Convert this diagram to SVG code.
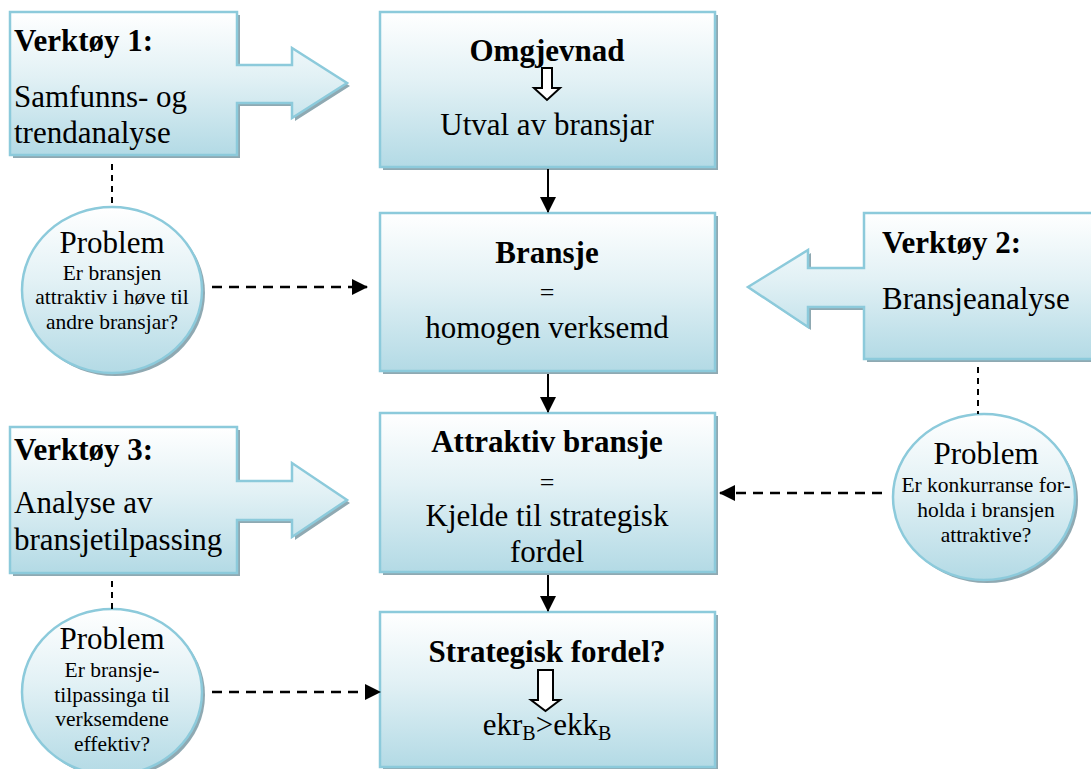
<svg xmlns="http://www.w3.org/2000/svg" width="1091" height="769" viewBox="0 0 1091 769">
  <defs>
    <linearGradient id="fillGrad" x1="0" y1="0" x2="0" y2="1">
      <stop offset="0" stop-color="#ffffff"/>
      <stop offset="0.45" stop-color="#e2f1f5"/>
      <stop offset="1" stop-color="#b3dae5"/>
    </linearGradient>
    <marker id="arrowSolid" markerUnits="userSpaceOnUse" markerWidth="16" markerHeight="16" viewBox="0 0 16 16" refX="15" refY="8" orient="auto">
      <path d="M0,0 L16,8 L0,16 Z" fill="#000"/>
    </marker>
  </defs>
  <style>
    .shape { fill: url(#fillGrad); stroke: #8ccadb; stroke-width: 2.5; }
    .shadow { fill: #8fa9b2; }
    .t { font-family: "Liberation Serif", "Times New Roman", serif; fill: #000; }
    .big { font-size: 31px; }
    .bold { font-weight: bold; }
    .small { font-size: 21.5px; }
    .eq { font-size: 26px; }
    .mid { text-anchor: middle; }
    .solid { stroke: #000; stroke-width: 2; fill: none; marker-end: url(#arrowSolid); }
    .dashed { stroke: #000; stroke-width: 2.5; fill: none; stroke-dasharray: 10 7; marker-end: url(#arrowSolid); }
    .dashv { stroke: #000; stroke-width: 2; fill: none; stroke-dasharray: 6 5; }
    .hollow { fill: #fff; stroke: #000; stroke-width: 2; }
  </style>

  <!-- Tool 1: arrow-shaped callout pointing right -->
  <g id="verktoy1">
    <path class="shadow" transform="translate(3,3)" d="M10,12 H237 V65 H292 V48 L347,83 L292,118 V103 H237 V155 H10 Z"/>
    <path class="shape" d="M10,12 H237 V65 H292 V48 L347,83 L292,118 V103 H237 V155 H10 Z"/>
    <text class="t big bold" x="14" y="51">Verktøy 1:</text>
    <text class="t big" x="14" y="107">Samfunns- og</text>
    <text class="t big" x="14" y="143">trendanalyse</text>
  </g>

  <!-- Main column -->
  <g id="omgjevnad">
    <rect class="shadow" x="383" y="15" width="335" height="155"/>
    <rect class="shape" x="380" y="12" width="335" height="155"/>
    <text class="t big bold mid" x="547" y="61">Omgjevnad</text>
    <path class="hollow" d="M542,68 H552 V88 H560 L547,100 L534,88 H542 Z"/>
    <text class="t big mid" x="547" y="135">Utval av bransjar</text>
  </g>

  <g id="bransje">
    <rect class="shadow" x="383" y="216" width="335" height="158"/>
    <rect class="shape" x="380" y="213" width="335" height="158"/>
    <text class="t big bold mid" x="547" y="263">Bransje</text>
    <text class="t eq mid" x="547" y="301">=</text>
    <text class="t big mid" x="547" y="338">homogen verksemd</text>
  </g>

  <g id="attraktiv">
    <rect class="shadow" x="383" y="416" width="335" height="159"/>
    <rect class="shape" x="380" y="413" width="335" height="159"/>
    <text class="t big bold mid" x="547" y="452">Attraktiv bransje</text>
    <text class="t eq mid" x="547" y="491">=</text>
    <text class="t big mid" x="547" y="526">Kjelde til strategisk</text>
    <text class="t big mid" x="547" y="562">fordel</text>
  </g>

  <g id="strategisk">
    <rect class="shadow" x="383" y="615" width="335" height="155"/>
    <rect class="shape" x="380" y="612" width="335" height="155"/>
    <text class="t big bold mid" x="547" y="662">Strategisk fordel?</text>
    <path class="hollow" d="M538,670 H553 V700 H560 L545.5,711 L531,700 H538 Z"/>
    <text class="t big mid" x="547" y="735">ekr<tspan font-size="20" dy="5">B</tspan><tspan dy="-5">&gt;ekk</tspan><tspan font-size="20" dy="5">B</tspan></text>
  </g>

  <!-- Tool 2: arrow-shaped callout pointing left -->
  <g id="verktoy2">
    <path class="shadow" transform="translate(3,3)" d="M1096,213 H864 V268 H808 V250 L748,287 L808,327 V307 H864 V359 H1096 Z"/>
    <path class="shape" d="M1096,213 H864 V268 H808 V250 L748,287 L808,327 V307 H864 V359 H1096 Z"/>
    <text class="t big bold" x="882" y="253">Verktøy 2:</text>
    <text class="t big" x="882" y="309">Bransjeanalyse</text>
  </g>

  <!-- Tool 3: arrow-shaped callout pointing right -->
  <g id="verktoy3">
    <path class="shadow" transform="translate(3,3)" d="M10,427 H237 V481 H292 V463 L347,500 L292,537 V520 H237 V573 H10 Z"/>
    <path class="shape" d="M10,427 H237 V481 H292 V463 L347,500 L292,537 V520 H237 V573 H10 Z"/>
    <text class="t big bold" x="14" y="460">Verktøy 3:</text>
    <text class="t big" x="14" y="513">Analyse av</text>
    <text class="t big" x="14" y="550">bransjetilpassing</text>
  </g>

  <!-- Problem bubbles -->
  <g id="problem1">
    <ellipse class="shadow" cx="115" cy="293" rx="90" ry="83"/>
    <ellipse class="shape" cx="112" cy="290" rx="90" ry="83"/>
    <text class="t big mid" x="112" y="253">Problem</text>
    <text class="t small mid" x="112" y="280">Er bransjen</text>
    <text class="t small mid" x="112" y="304">attraktiv i høve til</text>
    <text class="t small mid" x="112" y="329">andre bransjar?</text>
  </g>

  <g id="problem2">
    <ellipse class="shadow" cx="987" cy="500" rx="91" ry="83"/>
    <ellipse class="shape" cx="984" cy="497" rx="91" ry="83"/>
    <text class="t big mid" x="986" y="464">Problem</text>
    <text class="t small mid" x="986" y="492">Er konkurranse for-</text>
    <text class="t small mid" x="986" y="517">holda i bransjen</text>
    <text class="t small mid" x="986" y="542">attraktive?</text>
  </g>

  <g id="problem3">
    <ellipse class="shadow" cx="115" cy="695" rx="90" ry="83"/>
    <ellipse class="shape" cx="112" cy="692" rx="90" ry="83"/>
    <text class="t big mid" x="112" y="649">Problem</text>
    <text class="t small mid" x="112" y="677">Er bransje-</text>
    <text class="t small mid" x="112" y="702">tilpassinga til</text>
    <text class="t small mid" x="112" y="726">verksemdene</text>
    <text class="t small mid" x="112" y="751">effektiv?</text>
  </g>

  <!-- Connectors -->
  <g id="connectors">
    <line class="solid" x1="548" y1="169" x2="548" y2="212"/>
    <line class="solid" x1="548" y1="374" x2="548" y2="412"/>
    <line class="solid" x1="548" y1="575" x2="548" y2="611"/>
    <line class="dashv" x1="112" y1="164" x2="112" y2="207"/>
    <line class="dashv" x1="978" y1="367" x2="978" y2="414"/>
    <line class="dashv" x1="112" y1="581" x2="112" y2="610"/>
    <line class="dashed" x1="212" y1="287" x2="367" y2="287"/>
    <line class="dashed" x1="882" y1="493" x2="720" y2="493"/>
    <line class="dashed" x1="212" y1="692" x2="380" y2="692"/>
  </g>
</svg>
